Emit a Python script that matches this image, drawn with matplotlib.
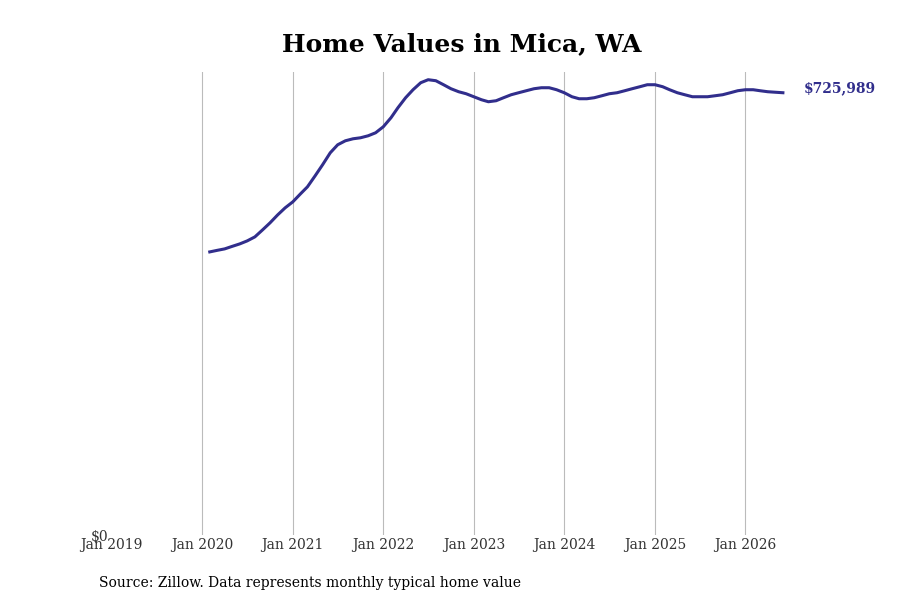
import matplotlib
matplotlib.use("Agg")
import matplotlib.pyplot as plt
import pandas as pd

values = [464828, 467300, 469755, 473860, 477968, 482895, 489465, 500963, 512460, 525600, 537098, 546953,
          560093, 571590, 589658, 607725, 627435, 640575, 647145, 650430, 652073, 655358, 660285,
          670140, 684923, 701348, 717773, 730913, 742410, 747338, 745695, 739125, 732555, 727628, 724343,
          719415, 714488, 711203, 712845, 717773, 722700, 725985, 729270, 732555, 734198, 734198, 730913,
          725985, 719415, 716130, 716130, 717773, 721058, 724343, 725985, 729270, 732555, 735840, 739125,
          739125, 735840, 730913, 725985, 722700, 719415, 719415, 719415, 721058, 722700, 725985,
          729270, 730913, 730913, 729270, 727628, 726800, 725989]
dates = pd.date_range("2020-02-01", periods=len(values), freq="MS")
tick_years = list(range(2019, 2027))

plt.rcParams['font.family'] = ['DejaVu Serif']
fig = plt.figure(figsize=(9, 6), dpi=100)
ax = fig.add_axes([0.124, 0.108, 0.758, 0.772])
ax.plot(dates, values, color="#312e8c", lw=2.2)
ax.set_xlim(pd.Timestamp("2019-01-01"), pd.Timestamp("2026-07-15"))
ax.set_ylim(0, 760000)
ax.set_xticks([pd.Timestamp(f"{y}-01-01") for y in tick_years])
ax.set_xticklabels([f"Jan {y}" for y in tick_years], fontsize=10, color="#333333")
ax.set_yticks([0])
ax.set_yticklabels(["$0"], fontsize=10, color="#333333")
ax.tick_params(length=0, pad=2)
for y in tick_years[1:]:
    ax.axvline(pd.Timestamp(f"{y}-01-01"), color="#bbbbbb", lw=0.8, zorder=0)
for s in ax.spines.values():
    s.set_visible(False)
ax.annotate(f"${values[-1]:,}", (dates[-1], values[-1]), xytext=(15, 3), textcoords="offset points",
            color="#312e8c", fontsize=10, fontweight="bold", va="center")
fig.text(0.513, 0.915, "Home Values in Mica, WA", ha="center", fontsize=18, fontweight="bold")
fig.text(0.11, 0.022, "Source: Zillow. Data represents monthly typical home value", fontsize=10)
fig.savefig("out.png")
